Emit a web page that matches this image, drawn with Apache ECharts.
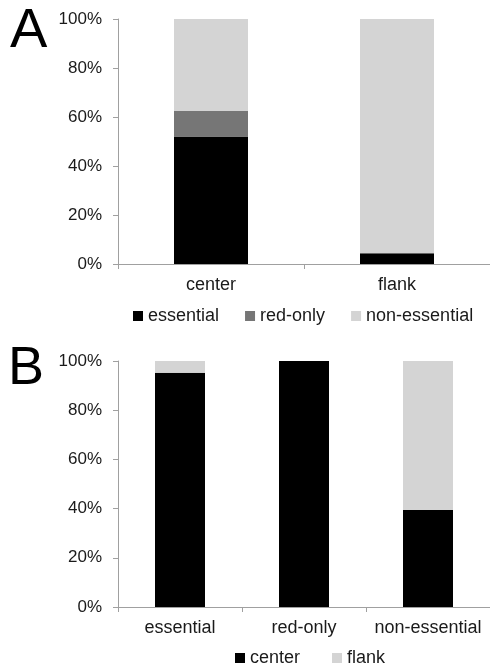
<!DOCTYPE html>
<html>
<head>
<meta charset="utf-8">
<script src="https://cdn.jsdelivr.net/npm/echarts@6/dist/echarts.min.js"></script>
<style>
html,body{margin:0;padding:0;background:#fff;}
#c{width:490px;height:665px;}
</style>
</head>
<body>
<div id="c"></div>
<script>
// Panel A
var catsA = ['center', 'flank'];
var essentialA = [52.0, 4.4];
var redOnlyA = [10.4, 0];
var nonEssentialA = [37.6, 95.6];
// Panel B
var catsB = ['essential', 'red-only', 'non-essential'];
var centerB = [95.2, 100, 39.4];
var flankB = [4.8, 0, 60.6];
// y ticks
var yMin = 0, yMax = 100, yStep = 20;

var FONT = '"Liberation Sans", Arial, sans-serif';
var AX = '#a0a0a0';
var TXT = '#1a1a1a';
var C_BLACK = '#000000', C_MID = '#767676', C_LIGHT = '#d4d4d4';

function yAxis(gi) {
  return {
    type: 'value', gridIndex: gi, min: yMin, max: yMax, interval: yStep,
    axisLine: {show: true, lineStyle: {color: AX, width: 1}},
    axisTick: {show: true, length: 5, lineStyle: {color: AX}},
    splitLine: {show: false},
    axisLabel: {formatter: '{value}%', fontFamily: FONT, fontSize: 17, color: TXT, margin: 16}
  };
}
function xAxis(gi, cats) {
  return {
    type: 'category', gridIndex: gi, data: cats,
    axisLine: {show: true, lineStyle: {color: AX, width: 1}},
    axisTick: {show: true, length: 5, lineStyle: {color: AX}},
    axisLabel: {interval: 0, fontFamily: FONT, fontSize: 18, color: TXT, margin: 12}
  };
}
function bar(name, data, gi, color, w) {
  return {
    name: name, type: 'bar', stack: 's' + gi, xAxisIndex: gi, yAxisIndex: gi,
    data: data, barWidth: w, itemStyle: {color: color}, animation: false
  };
}

var chart = echarts.init(document.getElementById('c'), null, {renderer: 'canvas'});
chart.setOption({
  animation: false,
  grid: [
    {left: 118, top: 19, width: 372, height: 245},
    {left: 118, top: 361, width: 372, height: 246}
  ],
  xAxis: [xAxis(0, catsA), xAxis(1, catsB)],
  yAxis: [yAxis(0), yAxis(1)],
  legend: [
    {
      data: ['essential', 'red-only', 'non-essential'],
      left: 128, top: 302, icon: 'rect', itemWidth: 10, itemHeight: 10, itemGap: 26,
      textStyle: {fontFamily: FONT, fontSize: 18, color: TXT}, selectedMode: false
    },
    {
      data: ['center', 'flank'],
      left: 230, top: 644, icon: 'rect', itemWidth: 10, itemHeight: 10, itemGap: 32,
      textStyle: {fontFamily: FONT, fontSize: 18, color: TXT}, selectedMode: false
    }
  ],
  graphic: [
    {type: 'text', left: 10, top: 4, style: {text: 'A', font: '56px ' + FONT, fill: '#000'}},
    {type: 'text', left: 8, top: 342, style: {text: 'B', font: '54px ' + FONT, fill: '#000'}}
  ],
  series: [
    bar('essential', essentialA, 0, C_BLACK, 74),
    bar('red-only', redOnlyA, 0, C_MID, 74),
    bar('non-essential', nonEssentialA, 0, C_LIGHT, 74),
    bar('center', centerB, 1, C_BLACK, 50),
    bar('flank', flankB, 1, C_LIGHT, 50)
  ]
});
</script>
</body>
</html>
